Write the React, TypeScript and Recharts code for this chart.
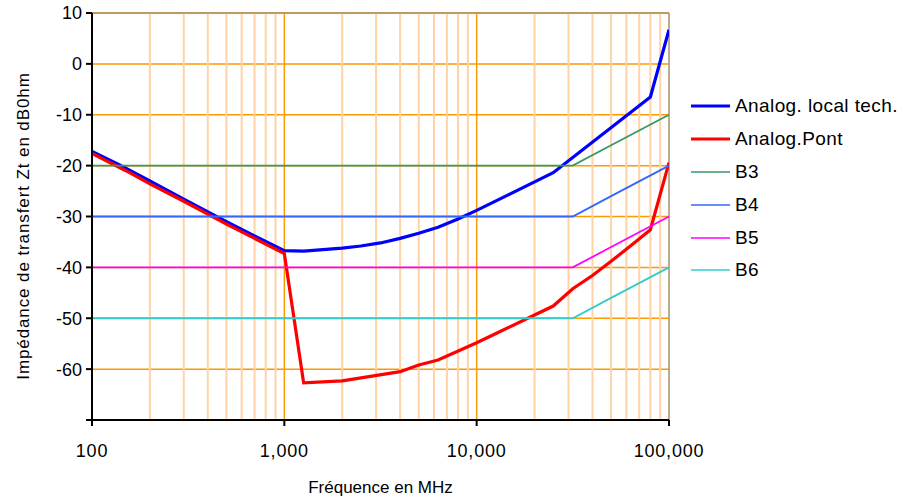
import {
  LineChart,
  Line,
  XAxis,
  YAxis,
  CartesianGrid,
  ReferenceLine,
  Legend,
  Label,
} from "recharts";

const FONT = '"Liberation Sans", Arial, sans-serif';

// axis ticks
const freqTicks = [100, 1000, 10000, 100000];
const dbTicks = [-70, -60, -50, -40, -30, -20, -10, 0, 10];

// log grid (decade lines are darker)
const minorFreqs = [
  200, 300, 400, 500, 600, 700, 800, 900,
  2000, 3000, 4000, 5000, 6000, 7000, 8000, 9000,
  20000, 30000, 40000, 50000, 60000, 70000, 80000, 90000,
];
const decadeFreqs = [1000, 10000];

// measured curves, MHz / dBOhm
const techFreq = [
  100, 140, 200, 300, 500, 700, 1000, 1260, 2000, 2500, 3160, 4000, 5000,
  6300, 8000, 10000, 25000, 80000, 100000,
];
const techDb = [
  -17.2, -19.9, -23.0, -26.6, -31.0, -33.8, -36.7, -36.8, -36.2, -35.8, -35.2,
  -34.3, -33.3, -32.1, -30.5, -28.8, -21.4, -6.5, 6.7,
];

const pontFreq = [
  100, 150, 200, 300, 500, 700, 1000, 1260, 2000, 4000, 5000, 6300, 10000,
  12600, 25000, 31600, 40000, 50000, 63000, 80000, 100000,
];
const pontDb = [
  -17.6, -21.0, -23.6, -27.0, -31.5, -34.3, -37.3, -62.7, -62.3, -60.5, -59.2,
  -58.2, -54.8, -53.0, -47.6, -44.2, -41.6, -38.8, -35.8, -32.6, -19.4,
];

// class limits
const bandFreq = [100, 31600, 50000, 100000];
const b3Db = [-20, -20, -16, -10];
const b4Db = [-30, -30, -26, -20];
const b5Db = [-40, -40, -36, -30];
const b6Db = [-50, -50, -46, -40];

const toPoints = (f: number[], v: number[]) => f.map((x, i) => ({ f: x, v: v[i] }));

const series = [
  { name: "Analog. local tech.", data: toPoints(techFreq, techDb), color: "#0000ff", width: 3.2 },
  { name: "Analog.Pont", data: toPoints(pontFreq, pontDb), color: "#ff0000", width: 3.2 },
  { name: "B3", data: toPoints(bandFreq, b3Db), color: "#339966", width: 1.8 },
  { name: "B4", data: toPoints(bandFreq, b4Db), color: "#3366ff", width: 1.8 },
  { name: "B5", data: toPoints(bandFreq, b5Db), color: "#ff00ff", width: 1.8 },
  { name: "B6", data: toPoints(bandFreq, b6Db), color: "#33cccc", width: 1.8 },
];

function LegendList({ payload }: any) {
  return (
    <div style={{ fontFamily: FONT, fontSize: 19, letterSpacing: 0.4, color: "#000" }}>
      {(payload || []).map((item: any) => (
        <div
          key={item.value}
          style={{ display: "flex", alignItems: "center", height: 32.8, whiteSpace: "nowrap" }}
        >
          <svg width={39} height={6} style={{ marginRight: 5 }}>
            <line
              x1={0}
              x2={39}
              y1={3}
              y2={3}
              stroke={item.color}
              strokeWidth={Math.min(item.payload?.strokeWidth ?? 1.4, 3.2) > 2 ? 3.2 : 1.4}
            />
          </svg>
          <span>{item.value}</span>
        </div>
      ))}
    </div>
  );
}

function YTitle() {
  return (
    <text
      x={29}
      y={226}
      transform="rotate(-90 29 226)"
      textAnchor="middle"
      fontFamily={FONT}
      fontSize={17}
      letterSpacing={0.9}
      fill="#000"
    >
      Impédance de transfert Zt en dB0hm
    </text>
  );
}

export default function App() {
  return (
    <div style={{ position: "absolute", left: 0, top: 0, background: "#fff" }}>
      <LineChart width={914} height={498} margin={{ top: 13, right: 245, bottom: 0, left: 0 }}>
        <CartesianGrid vertical={false} stroke="#ff9900" strokeWidth={1.5} />
        {minorFreqs.map((f) => (
          <ReferenceLine key={f} x={f} stroke="#ffd3a6" strokeWidth={2} />
        ))}
        {decadeFreqs.map((f) => (
          <ReferenceLine key={f} x={f} stroke="#ff9900" strokeWidth={1.5} />
        ))}
        <ReferenceLine y={10} stroke="#a8906c" strokeWidth={1.5} />
        <ReferenceLine x={100000} stroke="#a8906c" strokeWidth={1.5} />
        <XAxis
          dataKey="f"
          type="number"
          scale="log"
          domain={[100, 100000]}
          ticks={freqTicks}
          allowDataOverflow
          height={78}
          stroke="#000"
          strokeWidth={2}
          tickSize={6}
          tickMargin={18}
          tick={{ fill: "#000", fontSize: 18, fontFamily: FONT, letterSpacing: 0.8 }}
          tickFormatter={(v: number) => v.toLocaleString("en-US")}
        >
          <Label
            value="Fréquence en MHz"
            position="insideBottom"
            offset={5}
            style={{ fontFamily: FONT, fontSize: 17, fill: "#000" }}
          />
        </XAxis>
        <YAxis
          dataKey="v"
          type="number"
          domain={[-70, 10]}
          ticks={dbTicks}
          width={92}
          stroke="#000"
          strokeWidth={2}
          tickSize={6}
          tickMargin={4}
          tick={{ fill: "#000", fontSize: 18, fontFamily: FONT }}
          tickFormatter={(v: number) => (v === -70 ? "" : String(v))}
        >
          <Label content={<YTitle />} />
        </YAxis>
        <Legend
          layout="horizontal"
          align="center"
          verticalAlign="middle"
          content={<LegendList />}
          wrapperStyle={{ left: 691, top: 90, width: 223 }}
        />
        {series.map((s) => (
          <Line
            key={s.name}
            name={s.name}
            data={s.data}
            dataKey="v"
            stroke={s.color}
            strokeWidth={s.width}
            dot={false}
            activeDot={false}
            isAnimationActive={false}
          />
        ))}
      </LineChart>
    </div>
  );
}
